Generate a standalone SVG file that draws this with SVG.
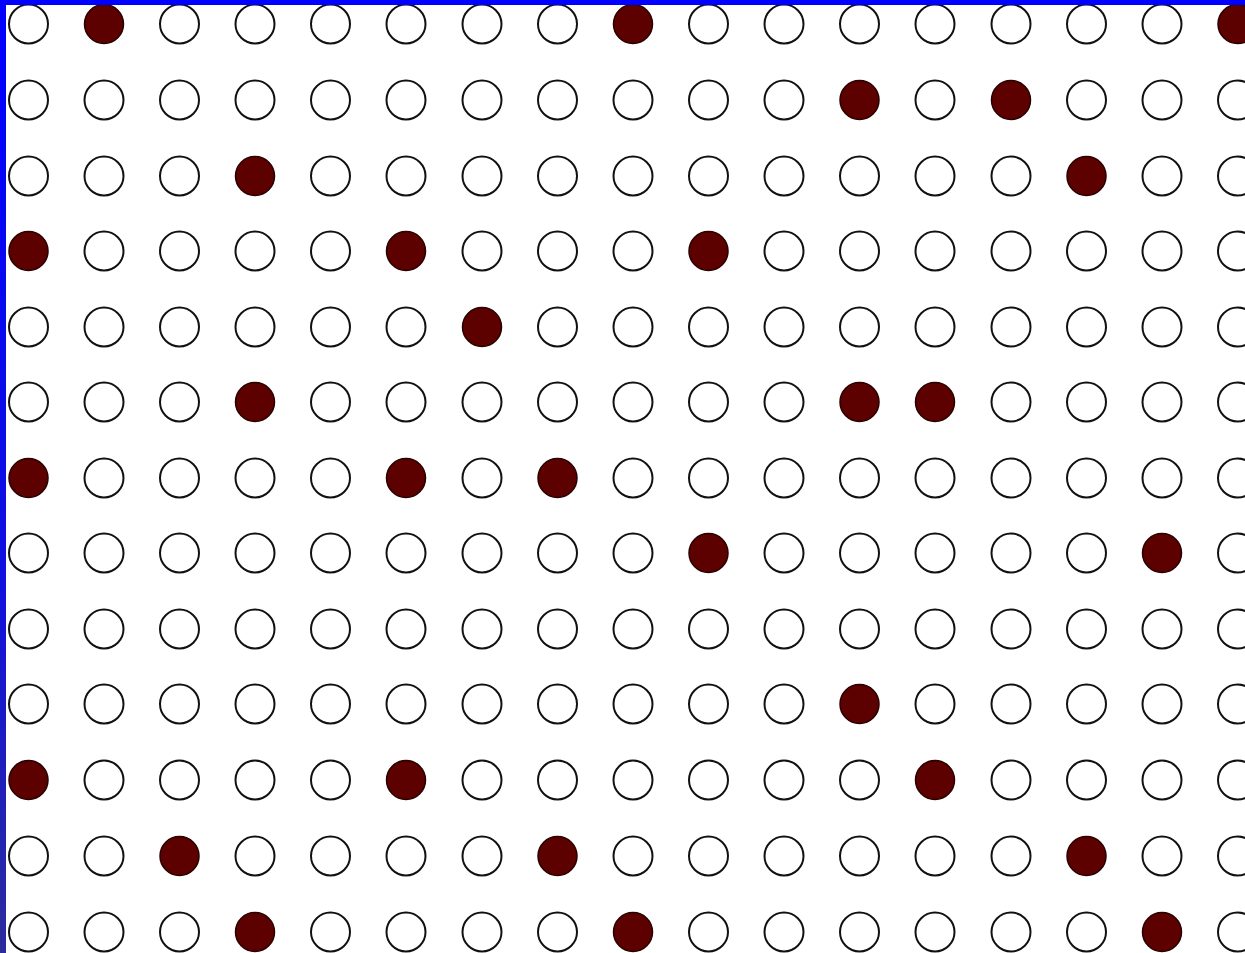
<svg xmlns="http://www.w3.org/2000/svg" width="1245" height="953" viewBox="0 0 1245 953">
<style>
.o{fill:#ffffff;stroke:#111111;stroke-width:2}
.f{fill:#5c0000;stroke:#2a0000;stroke-width:1.5}
</style>
<defs>
<linearGradient id="lb" x1="0" y1="0" x2="0" y2="1">
<stop offset="0" stop-color="#0000ff"/>
<stop offset="0.6" stop-color="#1010e0"/>
<stop offset="1" stop-color="#2c2c9c"/>
</linearGradient>
</defs>
<rect x="0" y="0" width="1245" height="953" fill="#ffffff"/>
<g id="grid">
<g id="row0" transform="translate(0,24)">
<circle class="o" cx="28.5" cy="0" r="19.5"/><circle class="f" cx="104" cy="0" r="19.5"/><circle class="o" cx="179.5" cy="0" r="19.5"/><circle class="o" cx="255" cy="0" r="19.5"/><circle class="o" cx="330.5" cy="0" r="19.5"/><circle class="o" cx="406" cy="0" r="19.5"/><circle class="o" cx="482" cy="0" r="19.5"/><circle class="o" cx="557.5" cy="0" r="19.5"/><circle class="f" cx="633" cy="0" r="19.5"/><circle class="o" cx="708.5" cy="0" r="19.5"/><circle class="o" cx="784" cy="0" r="19.5"/><circle class="o" cx="859.5" cy="0" r="19.5"/><circle class="o" cx="935" cy="0" r="19.5"/><circle class="o" cx="1011" cy="0" r="19.5"/><circle class="o" cx="1086.5" cy="0" r="19.5"/><circle class="o" cx="1162" cy="0" r="19.5"/><circle class="f" cx="1237.5" cy="0" r="19.5"/>
</g>
<g id="row1" transform="translate(0,100)">
<circle class="o" cx="28.5" cy="0" r="19.5"/><circle class="o" cx="104" cy="0" r="19.5"/><circle class="o" cx="179.5" cy="0" r="19.5"/><circle class="o" cx="255" cy="0" r="19.5"/><circle class="o" cx="330.5" cy="0" r="19.5"/><circle class="o" cx="406" cy="0" r="19.5"/><circle class="o" cx="482" cy="0" r="19.5"/><circle class="o" cx="557.5" cy="0" r="19.5"/><circle class="o" cx="633" cy="0" r="19.5"/><circle class="o" cx="708.5" cy="0" r="19.5"/><circle class="o" cx="784" cy="0" r="19.5"/><circle class="f" cx="859.5" cy="0" r="19.5"/><circle class="o" cx="935" cy="0" r="19.5"/><circle class="f" cx="1011" cy="0" r="19.5"/><circle class="o" cx="1086.5" cy="0" r="19.5"/><circle class="o" cx="1162" cy="0" r="19.5"/><circle class="o" cx="1237.5" cy="0" r="19.5"/>
</g>
<g id="row2" transform="translate(0,176)">
<circle class="o" cx="28.5" cy="0" r="19.5"/><circle class="o" cx="104" cy="0" r="19.5"/><circle class="o" cx="179.5" cy="0" r="19.5"/><circle class="f" cx="255" cy="0" r="19.5"/><circle class="o" cx="330.5" cy="0" r="19.5"/><circle class="o" cx="406" cy="0" r="19.5"/><circle class="o" cx="482" cy="0" r="19.5"/><circle class="o" cx="557.5" cy="0" r="19.5"/><circle class="o" cx="633" cy="0" r="19.5"/><circle class="o" cx="708.5" cy="0" r="19.5"/><circle class="o" cx="784" cy="0" r="19.5"/><circle class="o" cx="859.5" cy="0" r="19.5"/><circle class="o" cx="935" cy="0" r="19.5"/><circle class="o" cx="1011" cy="0" r="19.5"/><circle class="f" cx="1086.5" cy="0" r="19.5"/><circle class="o" cx="1162" cy="0" r="19.5"/><circle class="o" cx="1237.5" cy="0" r="19.5"/>
</g>
<g id="row3" transform="translate(0,251)">
<circle class="f" cx="28.5" cy="0" r="19.5"/><circle class="o" cx="104" cy="0" r="19.5"/><circle class="o" cx="179.5" cy="0" r="19.5"/><circle class="o" cx="255" cy="0" r="19.5"/><circle class="o" cx="330.5" cy="0" r="19.5"/><circle class="f" cx="406" cy="0" r="19.5"/><circle class="o" cx="482" cy="0" r="19.5"/><circle class="o" cx="557.5" cy="0" r="19.5"/><circle class="o" cx="633" cy="0" r="19.5"/><circle class="f" cx="708.5" cy="0" r="19.5"/><circle class="o" cx="784" cy="0" r="19.5"/><circle class="o" cx="859.5" cy="0" r="19.5"/><circle class="o" cx="935" cy="0" r="19.5"/><circle class="o" cx="1011" cy="0" r="19.5"/><circle class="o" cx="1086.5" cy="0" r="19.5"/><circle class="o" cx="1162" cy="0" r="19.5"/><circle class="o" cx="1237.5" cy="0" r="19.5"/>
</g>
<g id="row4" transform="translate(0,327)">
<circle class="o" cx="28.5" cy="0" r="19.5"/><circle class="o" cx="104" cy="0" r="19.5"/><circle class="o" cx="179.5" cy="0" r="19.5"/><circle class="o" cx="255" cy="0" r="19.5"/><circle class="o" cx="330.5" cy="0" r="19.5"/><circle class="o" cx="406" cy="0" r="19.5"/><circle class="f" cx="482" cy="0" r="19.5"/><circle class="o" cx="557.5" cy="0" r="19.5"/><circle class="o" cx="633" cy="0" r="19.5"/><circle class="o" cx="708.5" cy="0" r="19.5"/><circle class="o" cx="784" cy="0" r="19.5"/><circle class="o" cx="859.5" cy="0" r="19.5"/><circle class="o" cx="935" cy="0" r="19.5"/><circle class="o" cx="1011" cy="0" r="19.5"/><circle class="o" cx="1086.5" cy="0" r="19.5"/><circle class="o" cx="1162" cy="0" r="19.5"/><circle class="o" cx="1237.5" cy="0" r="19.5"/>
</g>
<g id="row5" transform="translate(0,402)">
<circle class="o" cx="28.5" cy="0" r="19.5"/><circle class="o" cx="104" cy="0" r="19.5"/><circle class="o" cx="179.5" cy="0" r="19.5"/><circle class="f" cx="255" cy="0" r="19.5"/><circle class="o" cx="330.5" cy="0" r="19.5"/><circle class="o" cx="406" cy="0" r="19.5"/><circle class="o" cx="482" cy="0" r="19.5"/><circle class="o" cx="557.5" cy="0" r="19.5"/><circle class="o" cx="633" cy="0" r="19.5"/><circle class="o" cx="708.5" cy="0" r="19.5"/><circle class="o" cx="784" cy="0" r="19.5"/><circle class="f" cx="859.5" cy="0" r="19.5"/><circle class="f" cx="935" cy="0" r="19.5"/><circle class="o" cx="1011" cy="0" r="19.5"/><circle class="o" cx="1086.5" cy="0" r="19.5"/><circle class="o" cx="1162" cy="0" r="19.5"/><circle class="o" cx="1237.5" cy="0" r="19.5"/>
</g>
<g id="row6" transform="translate(0,478)">
<circle class="f" cx="28.5" cy="0" r="19.5"/><circle class="o" cx="104" cy="0" r="19.5"/><circle class="o" cx="179.5" cy="0" r="19.5"/><circle class="o" cx="255" cy="0" r="19.5"/><circle class="o" cx="330.5" cy="0" r="19.5"/><circle class="f" cx="406" cy="0" r="19.5"/><circle class="o" cx="482" cy="0" r="19.5"/><circle class="f" cx="557.5" cy="0" r="19.5"/><circle class="o" cx="633" cy="0" r="19.5"/><circle class="o" cx="708.5" cy="0" r="19.5"/><circle class="o" cx="784" cy="0" r="19.5"/><circle class="o" cx="859.5" cy="0" r="19.5"/><circle class="o" cx="935" cy="0" r="19.5"/><circle class="o" cx="1011" cy="0" r="19.5"/><circle class="o" cx="1086.5" cy="0" r="19.5"/><circle class="o" cx="1162" cy="0" r="19.5"/><circle class="o" cx="1237.5" cy="0" r="19.5"/>
</g>
<g id="row7" transform="translate(0,553)">
<circle class="o" cx="28.5" cy="0" r="19.5"/><circle class="o" cx="104" cy="0" r="19.5"/><circle class="o" cx="179.5" cy="0" r="19.5"/><circle class="o" cx="255" cy="0" r="19.5"/><circle class="o" cx="330.5" cy="0" r="19.5"/><circle class="o" cx="406" cy="0" r="19.5"/><circle class="o" cx="482" cy="0" r="19.5"/><circle class="o" cx="557.5" cy="0" r="19.5"/><circle class="o" cx="633" cy="0" r="19.5"/><circle class="f" cx="708.5" cy="0" r="19.5"/><circle class="o" cx="784" cy="0" r="19.5"/><circle class="o" cx="859.5" cy="0" r="19.5"/><circle class="o" cx="935" cy="0" r="19.5"/><circle class="o" cx="1011" cy="0" r="19.5"/><circle class="o" cx="1086.5" cy="0" r="19.5"/><circle class="f" cx="1162" cy="0" r="19.5"/><circle class="o" cx="1237.5" cy="0" r="19.5"/>
</g>
<g id="row8" transform="translate(0,629)">
<circle class="o" cx="28.5" cy="0" r="19.5"/><circle class="o" cx="104" cy="0" r="19.5"/><circle class="o" cx="179.5" cy="0" r="19.5"/><circle class="o" cx="255" cy="0" r="19.5"/><circle class="o" cx="330.5" cy="0" r="19.5"/><circle class="o" cx="406" cy="0" r="19.5"/><circle class="o" cx="482" cy="0" r="19.5"/><circle class="o" cx="557.5" cy="0" r="19.5"/><circle class="o" cx="633" cy="0" r="19.5"/><circle class="o" cx="708.5" cy="0" r="19.5"/><circle class="o" cx="784" cy="0" r="19.5"/><circle class="o" cx="859.5" cy="0" r="19.5"/><circle class="o" cx="935" cy="0" r="19.5"/><circle class="o" cx="1011" cy="0" r="19.5"/><circle class="o" cx="1086.5" cy="0" r="19.5"/><circle class="o" cx="1162" cy="0" r="19.5"/><circle class="o" cx="1237.5" cy="0" r="19.5"/>
</g>
<g id="row9" transform="translate(0,704)">
<circle class="o" cx="28.5" cy="0" r="19.5"/><circle class="o" cx="104" cy="0" r="19.5"/><circle class="o" cx="179.5" cy="0" r="19.5"/><circle class="o" cx="255" cy="0" r="19.5"/><circle class="o" cx="330.5" cy="0" r="19.5"/><circle class="o" cx="406" cy="0" r="19.5"/><circle class="o" cx="482" cy="0" r="19.5"/><circle class="o" cx="557.5" cy="0" r="19.5"/><circle class="o" cx="633" cy="0" r="19.5"/><circle class="o" cx="708.5" cy="0" r="19.5"/><circle class="o" cx="784" cy="0" r="19.5"/><circle class="f" cx="859.5" cy="0" r="19.5"/><circle class="o" cx="935" cy="0" r="19.5"/><circle class="o" cx="1011" cy="0" r="19.5"/><circle class="o" cx="1086.5" cy="0" r="19.5"/><circle class="o" cx="1162" cy="0" r="19.5"/><circle class="o" cx="1237.5" cy="0" r="19.5"/>
</g>
<g id="row10" transform="translate(0,780)">
<circle class="f" cx="28.5" cy="0" r="19.5"/><circle class="o" cx="104" cy="0" r="19.5"/><circle class="o" cx="179.5" cy="0" r="19.5"/><circle class="o" cx="255" cy="0" r="19.5"/><circle class="o" cx="330.5" cy="0" r="19.5"/><circle class="f" cx="406" cy="0" r="19.5"/><circle class="o" cx="482" cy="0" r="19.5"/><circle class="o" cx="557.5" cy="0" r="19.5"/><circle class="o" cx="633" cy="0" r="19.5"/><circle class="o" cx="708.5" cy="0" r="19.5"/><circle class="o" cx="784" cy="0" r="19.5"/><circle class="o" cx="859.5" cy="0" r="19.5"/><circle class="f" cx="935" cy="0" r="19.5"/><circle class="o" cx="1011" cy="0" r="19.5"/><circle class="o" cx="1086.5" cy="0" r="19.5"/><circle class="o" cx="1162" cy="0" r="19.5"/><circle class="o" cx="1237.5" cy="0" r="19.5"/>
</g>
<g id="row11" transform="translate(0,856)">
<circle class="o" cx="28.5" cy="0" r="19.5"/><circle class="o" cx="104" cy="0" r="19.5"/><circle class="f" cx="179.5" cy="0" r="19.5"/><circle class="o" cx="255" cy="0" r="19.5"/><circle class="o" cx="330.5" cy="0" r="19.5"/><circle class="o" cx="406" cy="0" r="19.5"/><circle class="o" cx="482" cy="0" r="19.5"/><circle class="f" cx="557.5" cy="0" r="19.5"/><circle class="o" cx="633" cy="0" r="19.5"/><circle class="o" cx="708.5" cy="0" r="19.5"/><circle class="o" cx="784" cy="0" r="19.5"/><circle class="o" cx="859.5" cy="0" r="19.5"/><circle class="o" cx="935" cy="0" r="19.5"/><circle class="o" cx="1011" cy="0" r="19.5"/><circle class="f" cx="1086.5" cy="0" r="19.5"/><circle class="o" cx="1162" cy="0" r="19.5"/><circle class="o" cx="1237.5" cy="0" r="19.5"/>
</g>
<g id="row12" transform="translate(0,932)">
<circle class="o" cx="28.5" cy="0" r="19.5"/><circle class="o" cx="104" cy="0" r="19.5"/><circle class="o" cx="179.5" cy="0" r="19.5"/><circle class="f" cx="255" cy="0" r="19.5"/><circle class="o" cx="330.5" cy="0" r="19.5"/><circle class="o" cx="406" cy="0" r="19.5"/><circle class="o" cx="482" cy="0" r="19.5"/><circle class="o" cx="557.5" cy="0" r="19.5"/><circle class="f" cx="633" cy="0" r="19.5"/><circle class="o" cx="708.5" cy="0" r="19.5"/><circle class="o" cx="784" cy="0" r="19.5"/><circle class="o" cx="859.5" cy="0" r="19.5"/><circle class="o" cx="935" cy="0" r="19.5"/><circle class="o" cx="1011" cy="0" r="19.5"/><circle class="o" cx="1086.5" cy="0" r="19.5"/><circle class="f" cx="1162" cy="0" r="19.5"/><circle class="o" cx="1237.5" cy="0" r="19.5"/>
</g>
</g>
<g id="connectors"/>
<g id="frame">
<rect x="0" y="0" width="1245" height="5" fill="#0000ff"/>
<rect x="0" y="0" width="6" height="953" fill="url(#lb)"/>
</g>
</svg>
